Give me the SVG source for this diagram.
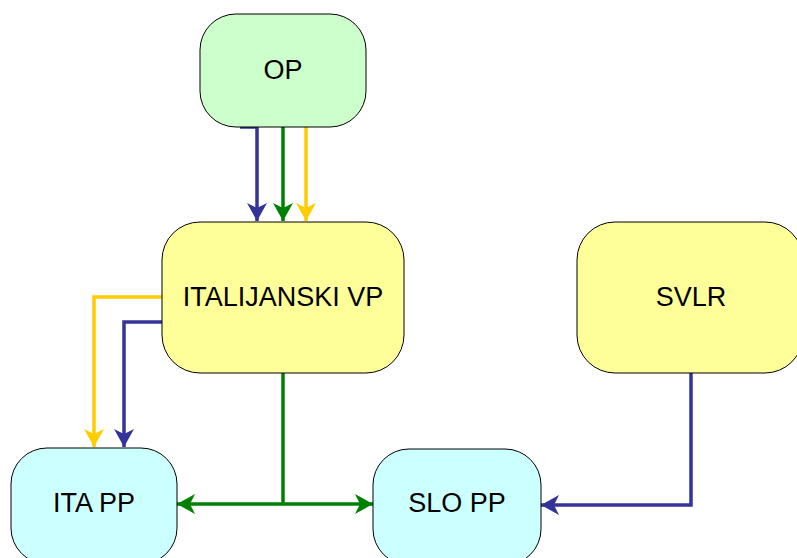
<svg xmlns="http://www.w3.org/2000/svg" width="797" height="558" viewBox="0 0 797 558">
<defs>
<style>
.n{stroke:#000;stroke-width:1}
.t{font-family:"Liberation Sans",Arial,sans-serif;font-size:27px;fill:#000;text-anchor:middle;dominant-baseline:central}
.c{fill:none;stroke-width:3.5}
.b{stroke:#333399}.g{stroke:#008000}.y{stroke:#FFCC00}
</style>
<marker id="mb" markerUnits="userSpaceOnUse" viewBox="0 0 18 20" refX="18" refY="10" markerWidth="18" markerHeight="20" orient="auto"><path d="M0,0 L18,10 L0,20 L5,10 Z" fill="#333399"/></marker>
<marker id="mg" markerUnits="userSpaceOnUse" viewBox="0 0 18 20" refX="18" refY="10" markerWidth="18" markerHeight="20" orient="auto"><path d="M0,0 L18,10 L0,20 L5,10 Z" fill="#008000"/></marker>
<marker id="my" markerUnits="userSpaceOnUse" viewBox="0 0 18 20" refX="18" refY="10" markerWidth="18" markerHeight="20" orient="auto"><path d="M0,0 L18,10 L0,20 L5,10 Z" fill="#FFCC00"/></marker>
</defs>
<rect width="797" height="558" fill="#fff"/>
<g id="connectors">
<path class="c b" d="M240,127 H257 V221" marker-end="url(#mb)"/>
<path class="c g" d="M283,127 V221" marker-end="url(#mg)"/>
<path class="c y" d="M306,127 V221" marker-end="url(#my)"/>
<path class="c y" d="M162,297 H94 V447" marker-end="url(#my)"/>
<path class="c b" d="M162,322 H124 V447" marker-end="url(#mb)"/>
<path class="c g" d="M283,373 V504" />
<path class="c g" d="M283,504 H177" marker-end="url(#mg)"/>
<path class="c g" d="M283,504 H373" marker-end="url(#mg)"/>
<path class="c b" d="M691,373 V505 H541" marker-end="url(#mb)"/>
</g>
<g id="op"><rect class="n" x="200" y="14" width="166" height="113" rx="36" fill="#CCFFCC"/><text class="t" x="283" y="70">OP</text></g>
<g id="italijanski-vp"><rect class="n" x="162" y="222" width="242" height="151" rx="38" fill="#FFFF99"/><text class="t" x="283" y="297">ITALIJANSKI VP</text></g>
<g id="svlr"><rect class="n" x="577" y="222" width="226" height="151" rx="38" fill="#FFFF99"/><text class="t" x="691" y="297">SVLR</text></g>
<g id="ita-pp"><rect class="n" x="11" y="448" width="166" height="116" rx="36" fill="#CCFFFF"/><text class="t" x="94" y="503">ITA PP</text></g>
<g id="slo-pp"><rect class="n" x="373" y="449" width="168" height="116" rx="36" fill="#CCFFFF"/><text class="t" x="457" y="503">SLO PP</text></g>
</svg>
